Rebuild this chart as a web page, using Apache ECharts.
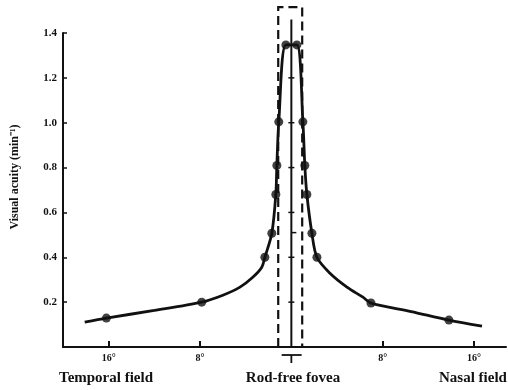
<!DOCTYPE html>
<html>
<head>
<meta charset="utf-8">
<script src="https://cdn.jsdelivr.net/npm/echarts@6/dist/echarts.min.js"></script>
<style>
  html, body { margin: 0; padding: 0; background: #fff; }
  #chart { width: 508px; height: 390px; }
</style>
</head>
<body>
<div id="chart"></div>
<script>
// measured dots (eccentricity in degrees, negative = temporal; acuity in min^-1)
const dotX = [-16.2, -7.85, -2.32, -1.71, -1.36, -1.27, -1.1, -0.48, 0.48, 1.01, 1.18, 1.36, 1.8, 2.24, 6.97, 13.8];
const dotY = [0.129, 0.2, 0.4, 0.507, 0.68, 0.809, 1.004, 1.347, 1.347, 1.004, 0.809, 0.68, 0.507, 0.4, 0.196, 0.12];

// points
const curveX = [-18.1, -16.2, -12, -7.85, -6.0, -4.5, -3.38, -2.59, -2.32, -1.71, -1.36, -1.27, -1.1, -0.48, 0.48, 1.01, 1.18, 1.36, 1.8, 2.24, 3.38, 4.87, 6.27, 6.97, 10.5, 13.8, 16.7];
const curveY = [0.111, 0.129, 0.163, 0.2, 0.231, 0.267, 0.311, 0.356, 0.4, 0.507, 0.68, 0.809, 1.004, 1.347, 1.347, 1.004, 0.809, 0.68, 0.507, 0.4, 0.329, 0.267, 0.222, 0.196, 0.158, 0.12, 0.093];

const xTicks = [-16, -8, 8, 16];
const yTicks = [0.2, 0.4, 0.6, 0.8, 1.0, 1.2];

// rod-free fovea marks
const foveaBox = [-1.15, 0.95];
const foveaBoxTop = 1.515;
const centreLineTop = 1.46;
const centreSideTick = 0.51;
const foveaBracket = [-0.85, 0.9];

const ink = "#111";
const serif = "Liberation Serif";

const chart = echarts.init(document.getElementById("chart"));

const option = {
  animation: false,
  backgroundColor: "#fff",
  grid: { left: 63, right: 2, top: 33, bottom: 43 },
  xAxis: {
    type: "value",
    min: -20,
    max: 18.8,
    axisLine: { onZero: false, lineStyle: { color: ink, width: 2 } },
    axisTick: { inside: true, length: 6, customValues: xTicks, lineStyle: { color: ink, width: 2 } },
    axisLabel: {
      customValues: xTicks,
      margin: 6,
      color: ink,
      fontFamily: serif,
      fontWeight: "bold",
      fontSize: 10,
      formatter: (v) => Math.abs(v) + "°",
    },
    splitLine: { show: false },
  },
  yAxis: {
    type: "value",
    min: 0,
    max: 1.4,
    interval: 0.2,
    axisLine: { show: true, onZero: false, lineStyle: { color: ink, width: 2 } },
    axisTick: { inside: true, length: 4, lineStyle: { color: ink, width: 1.5 } },
    axisLabel: {
      margin: 6,
      color: ink,
      fontFamily: serif,
      fontWeight: "bold",
      fontSize: 11,
      formatter: (v) => (v === 0 ? "" : v.toFixed(1)),
    },
    splitLine: { show: false },
  },
  graphic: [
    {
      type: "text",
      x: 15,
      y: 177,
      rotation: Math.PI / 2,
      style: {
        text: "Visual acuity (min⁻¹)",
        fill: ink,
        font: "bold 12px " + serif,
        textAlign: "center",
        textVerticalAlign: "middle",
      },
    },
    {
      type: "text",
      x: 59,
      y: 378,
      style: { text: "Temporal field", fill: ink, font: "bold 15px " + serif, textVerticalAlign: "middle" },
    },
    {
      type: "text",
      x: 293,
      y: 378,
      style: { text: "Rod-free fovea", fill: ink, font: "bold 15px " + serif, textAlign: "center", textVerticalAlign: "middle" },
    },
    {
      type: "text",
      x: 439,
      y: 378,
      style: { text: "Nasal field", fill: ink, font: "bold 15px " + serif, textVerticalAlign: "middle" },
    },
  ],
  series: [
    {
      type: "custom",
      clip: false,
      silent: true,
      data: [[0, 0]],
      renderItem: (params, api) => {
        const p = (x, y) => api.coord([x, y]);
        const line = (a, b, w) => ({
          type: "line",
          shape: { x1: a[0], y1: a[1], x2: b[0], y2: b[1] },
          style: { stroke: ink, lineWidth: w },
        });
        const children = [];
        children.push({
          type: "polyline",
          shape: {
            points: [
              p(foveaBox[0], 0),
              p(foveaBox[0], foveaBoxTop),
              p(foveaBox[1], foveaBoxTop),
              p(foveaBox[1], 0),
            ],
          },
          style: { stroke: ink, lineWidth: 2.2, lineDash: [9, 5], fill: null },
        });
        const c0 = p(0, 0);
        children.push(line(c0, p(0, centreLineTop), 2));
        yTicks.forEach((v) => {
          const c = p(0, v);
          children.push(line([c[0] - 3, c[1]], [c[0] + 3, c[1]], 1.5));
        });
        const s = p(0, centreSideTick);
        children.push(line(s, [s[0] + 5, s[1]], 1.5));
        const b0 = p(foveaBracket[0], 0);
        const b1 = p(foveaBracket[1], 0);
        children.push(line([b0[0], b0[1] + 8], [b1[0], b1[1] + 8], 1.8));
        children.push(line([c0[0], c0[1] + 8], [c0[0], c0[1] + 16], 1.8));
        return { type: "group", children };
      },
      z: 2,
    },
    {
      type: "line",
      data: curveX.map((x, i) => [x, curveY[i]]),
      showSymbol: false,
      smooth: 0.3,
      lineStyle: { color: ink, width: 2.8 },
      z: 3,
    },
    {
      type: "scatter",
      data: dotX.map((x, i) => [x, dotY[i]]),
      symbolSize: 9,
      itemStyle: { color: ink },
      z: 4,
    },
  ],
};

chart.setOption(option);
</script>
</body>
</html>
